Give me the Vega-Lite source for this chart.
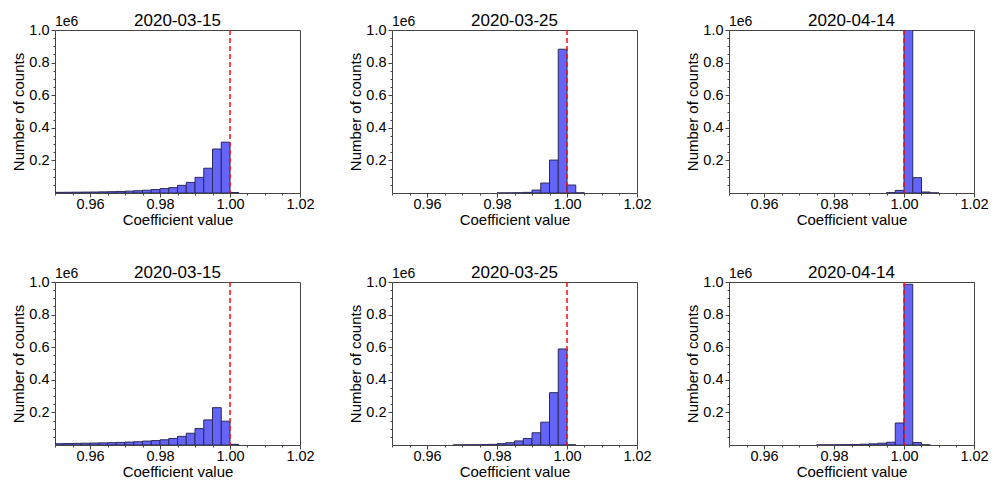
{
  "$schema": "https://vega.github.io/schema/vega-lite/v6.json",
  "padding": {"left": 11, "top": 11, "right": 5, "bottom": 5},
  "data": {"values": [
    {"panel": "1|2020-03-15", "bin_start": 0.95, "bin_end": 0.9525, "count": 4000},
    {"panel": "1|2020-03-15", "bin_start": 0.9525, "bin_end": 0.955, "count": 4500},
    {"panel": "1|2020-03-15", "bin_start": 0.955, "bin_end": 0.9575, "count": 5000},
    {"panel": "1|2020-03-15", "bin_start": 0.9575, "bin_end": 0.96, "count": 5500},
    {"panel": "1|2020-03-15", "bin_start": 0.96, "bin_end": 0.9625, "count": 6000},
    {"panel": "1|2020-03-15", "bin_start": 0.9625, "bin_end": 0.965, "count": 7000},
    {"panel": "1|2020-03-15", "bin_start": 0.965, "bin_end": 0.9675, "count": 8000},
    {"panel": "1|2020-03-15", "bin_start": 0.9675, "bin_end": 0.97, "count": 9500},
    {"panel": "1|2020-03-15", "bin_start": 0.97, "bin_end": 0.9725, "count": 11500},
    {"panel": "1|2020-03-15", "bin_start": 0.9725, "bin_end": 0.975, "count": 14000},
    {"panel": "1|2020-03-15", "bin_start": 0.975, "bin_end": 0.9775, "count": 17000},
    {"panel": "1|2020-03-15", "bin_start": 0.9775, "bin_end": 0.98, "count": 21000},
    {"panel": "1|2020-03-15", "bin_start": 0.98, "bin_end": 0.9825, "count": 27000},
    {"panel": "1|2020-03-15", "bin_start": 0.9825, "bin_end": 0.985, "count": 33000},
    {"panel": "1|2020-03-15", "bin_start": 0.985, "bin_end": 0.9875, "count": 47000},
    {"panel": "1|2020-03-15", "bin_start": 0.9875, "bin_end": 0.99, "count": 65000},
    {"panel": "1|2020-03-15", "bin_start": 0.99, "bin_end": 0.9925, "count": 96000},
    {"panel": "1|2020-03-15", "bin_start": 0.9925, "bin_end": 0.995, "count": 152000},
    {"panel": "1|2020-03-15", "bin_start": 0.995, "bin_end": 0.9975, "count": 270000},
    {"panel": "1|2020-03-15", "bin_start": 0.9975, "bin_end": 1.0, "count": 312000},
    {"panel": "1|2020-03-15", "bin_start": 1.0, "bin_end": 1.0025, "count": 3000},

    {"panel": "2|2020-03-25", "bin_start": 0.98, "bin_end": 0.9825, "count": 200},
    {"panel": "2|2020-03-25", "bin_start": 0.9825, "bin_end": 0.985, "count": 500},
    {"panel": "2|2020-03-25", "bin_start": 0.985, "bin_end": 0.9875, "count": 1500},
    {"panel": "2|2020-03-25", "bin_start": 0.9875, "bin_end": 0.99, "count": 4000},
    {"panel": "2|2020-03-25", "bin_start": 0.99, "bin_end": 0.9925, "count": 18000},
    {"panel": "2|2020-03-25", "bin_start": 0.9925, "bin_end": 0.995, "count": 61000},
    {"panel": "2|2020-03-25", "bin_start": 0.995, "bin_end": 0.9975, "count": 202000},
    {"panel": "2|2020-03-25", "bin_start": 0.9975, "bin_end": 1.0, "count": 882000},
    {"panel": "2|2020-03-25", "bin_start": 1.0, "bin_end": 1.0025, "count": 49000},
    {"panel": "2|2020-03-25", "bin_start": 1.0025, "bin_end": 1.005, "count": 1000},

    {"panel": "3|2020-04-14", "bin_start": 0.995, "bin_end": 0.9975, "count": 2000},
    {"panel": "3|2020-04-14", "bin_start": 0.9975, "bin_end": 1.0, "count": 16000},
    {"panel": "3|2020-04-14", "bin_start": 1.0, "bin_end": 1.0025, "count": 1000000},
    {"panel": "3|2020-04-14", "bin_start": 1.0025, "bin_end": 1.005, "count": 94000},
    {"panel": "3|2020-04-14", "bin_start": 1.005, "bin_end": 1.0075, "count": 6000},
    {"panel": "3|2020-04-14", "bin_start": 1.0075, "bin_end": 1.01, "count": 500},

    {"panel": "4|2020-03-15", "bin_start": 0.95, "bin_end": 0.9525, "count": 8000},
    {"panel": "4|2020-03-15", "bin_start": 0.9525, "bin_end": 0.955, "count": 9000},
    {"panel": "4|2020-03-15", "bin_start": 0.955, "bin_end": 0.9575, "count": 10000},
    {"panel": "4|2020-03-15", "bin_start": 0.9575, "bin_end": 0.96, "count": 11000},
    {"panel": "4|2020-03-15", "bin_start": 0.96, "bin_end": 0.9625, "count": 12000},
    {"panel": "4|2020-03-15", "bin_start": 0.9625, "bin_end": 0.965, "count": 13000},
    {"panel": "4|2020-03-15", "bin_start": 0.965, "bin_end": 0.9675, "count": 14000},
    {"panel": "4|2020-03-15", "bin_start": 0.9675, "bin_end": 0.97, "count": 16000},
    {"panel": "4|2020-03-15", "bin_start": 0.97, "bin_end": 0.9725, "count": 18000},
    {"panel": "4|2020-03-15", "bin_start": 0.9725, "bin_end": 0.975, "count": 20000},
    {"panel": "4|2020-03-15", "bin_start": 0.975, "bin_end": 0.9775, "count": 24000},
    {"panel": "4|2020-03-15", "bin_start": 0.9775, "bin_end": 0.98, "count": 27000},
    {"panel": "4|2020-03-15", "bin_start": 0.98, "bin_end": 0.9825, "count": 32000},
    {"panel": "4|2020-03-15", "bin_start": 0.9825, "bin_end": 0.985, "count": 40000},
    {"panel": "4|2020-03-15", "bin_start": 0.985, "bin_end": 0.9875, "count": 53000},
    {"panel": "4|2020-03-15", "bin_start": 0.9875, "bin_end": 0.99, "count": 72000},
    {"panel": "4|2020-03-15", "bin_start": 0.99, "bin_end": 0.9925, "count": 101000},
    {"panel": "4|2020-03-15", "bin_start": 0.9925, "bin_end": 0.995, "count": 154000},
    {"panel": "4|2020-03-15", "bin_start": 0.995, "bin_end": 0.9975, "count": 229000},
    {"panel": "4|2020-03-15", "bin_start": 0.9975, "bin_end": 1.0, "count": 146000},
    {"panel": "4|2020-03-15", "bin_start": 1.0, "bin_end": 1.0025, "count": 4000},

    {"panel": "5|2020-03-25", "bin_start": 0.9675, "bin_end": 0.97, "count": 400},
    {"panel": "5|2020-03-25", "bin_start": 0.97, "bin_end": 0.9725, "count": 700},
    {"panel": "5|2020-03-25", "bin_start": 0.9725, "bin_end": 0.975, "count": 1200},
    {"panel": "5|2020-03-25", "bin_start": 0.975, "bin_end": 0.9775, "count": 2000},
    {"panel": "5|2020-03-25", "bin_start": 0.9775, "bin_end": 0.98, "count": 4000},
    {"panel": "5|2020-03-25", "bin_start": 0.98, "bin_end": 0.9825, "count": 8000},
    {"panel": "5|2020-03-25", "bin_start": 0.9825, "bin_end": 0.985, "count": 14000},
    {"panel": "5|2020-03-25", "bin_start": 0.985, "bin_end": 0.9875, "count": 25000},
    {"panel": "5|2020-03-25", "bin_start": 0.9875, "bin_end": 0.99, "count": 40000},
    {"panel": "5|2020-03-25", "bin_start": 0.99, "bin_end": 0.9925, "count": 75000},
    {"panel": "5|2020-03-25", "bin_start": 0.9925, "bin_end": 0.995, "count": 140000},
    {"panel": "5|2020-03-25", "bin_start": 0.995, "bin_end": 0.9975, "count": 321000},
    {"panel": "5|2020-03-25", "bin_start": 0.9975, "bin_end": 1.0, "count": 589000},
    {"panel": "5|2020-03-25", "bin_start": 1.0, "bin_end": 1.0025, "count": 1000},

    {"panel": "6|2020-04-14", "bin_start": 0.975, "bin_end": 0.9775, "count": 500},
    {"panel": "6|2020-04-14", "bin_start": 0.9775, "bin_end": 0.98, "count": 800},
    {"panel": "6|2020-04-14", "bin_start": 0.98, "bin_end": 0.9825, "count": 1200},
    {"panel": "6|2020-04-14", "bin_start": 0.9825, "bin_end": 0.985, "count": 2000},
    {"panel": "6|2020-04-14", "bin_start": 0.985, "bin_end": 0.9875, "count": 3000},
    {"panel": "6|2020-04-14", "bin_start": 0.9875, "bin_end": 0.99, "count": 5000},
    {"panel": "6|2020-04-14", "bin_start": 0.99, "bin_end": 0.9925, "count": 7000},
    {"panel": "6|2020-04-14", "bin_start": 0.9925, "bin_end": 0.995, "count": 11000},
    {"panel": "6|2020-04-14", "bin_start": 0.995, "bin_end": 0.9975, "count": 17000},
    {"panel": "6|2020-04-14", "bin_start": 0.9975, "bin_end": 1.0, "count": 135000},
    {"panel": "6|2020-04-14", "bin_start": 1.0, "bin_end": 1.0025, "count": 986000},
    {"panel": "6|2020-04-14", "bin_start": 1.0025, "bin_end": 1.005, "count": 15000},
    {"panel": "6|2020-04-14", "bin_start": 1.005, "bin_end": 1.0075, "count": 1000}
  ]},
  "facet": {
    "field": "panel",
    "type": "nominal",
    "sort": "ascending",
    "header": {
      "title": null,
      "labelExpr": "split(datum.value, '|')[1]",
      "labelFont": "Liberation Sans",
      "labelFontSize": 17,
      "labelColor": "#000000",
      "labelPadding": -15
    }
  },
  "columns": 3,
  "spacing": {"column": 33, "row": 35},
  "resolve": {"axis": {"x": "independent", "y": "independent"}},
  "spec": {
    "width": 245,
    "height": 163,
    "encoding": {
      "x": {
        "type": "quantitative",
        "scale": {"domain": [0.95, 1.02], "nice": false, "zero": false},
        "axis": {
          "title": "Coefficient value",
          "labelPadding": 0,
          "values": [0.95, 0.955, 0.96, 0.965, 0.97, 0.975, 0.98, 0.985, 0.99, 0.995, 1.0, 1.005, 1.01, 1.015, 1.02],
          "labelExpr": "abs(datum.value * 50 - round(datum.value * 50)) < 1e-6 ? format(datum.value, '.2f') : ''",
          "tickSize": {"condition": {"test": "abs(datum.value * 50 - round(datum.value * 50)) < 1e-6", "value": 4}, "value": 2}
        }
      },
      "y": {
        "type": "quantitative",
        "scale": {"domain": [0, 1000000], "nice": false},
        "axis": {
          "title": "Number of counts",
          "values": [50000, 100000, 150000, 200000, 250000, 300000, 350000, 400000, 450000, 500000, 550000, 600000, 650000, 700000, 750000, 800000, 850000, 900000, 950000, 1000000],
          "labelExpr": "datum.value % 200000 === 0 ? format(datum.value / 1000000, '.1f') : ''",
          "tickSize": {"condition": {"test": "datum.value % 200000 === 0", "value": 4}, "value": 2}
        }
      }
    },
    "layer": [
      {
        "mark": {"type": "bar", "fill": "#6464f8", "stroke": "#2a2a5a", "strokeWidth": 1, "clip": true},
        "encoding": {
          "x": {"field": "bin_start"},
          "x2": {"field": "bin_end"},
          "y": {"field": "count"},
          "y2": {"datum": 0}
        }
      },
      {
        "transform": [{"filter": "datum.bin_start === 0.9975"}],
        "mark": {"type": "rule", "color": "#ee1111", "strokeDash": [5, 3], "strokeWidth": 1.5},
        "encoding": {"x": {"datum": 1.0}}
      },
      {
        "transform": [{"filter": "datum.bin_start === 0.9975"}],
        "mark": {"type": "text", "text": "1e6", "align": "left", "baseline": "bottom", "dy": -1, "fontSize": 14, "font": "Liberation Sans", "color": "#000000"},
        "encoding": {"x": {"datum": 0.95}, "y": {"datum": 1000000}}
      }
    ]
  },
  "config": {
    "font": "Liberation Sans",
    "view": {"stroke": "#444444", "strokeWidth": 1},
    "axis": {
      "domain": false,
      "grid": false,
      "labelFont": "Liberation Sans",
      "labelFontSize": 14.5,
      "labelColor": "#000000",
      "labelPadding": 2,
      "labelFlush": false,
      "labelOverlap": false,
      "tickColor": "#444444",
      "titleFont": "Liberation Sans",
      "titleFontSize": 15,
      "titleFontWeight": "normal",
      "titleColor": "#000000",
      "titlePadding": 2
    }
  }
}
